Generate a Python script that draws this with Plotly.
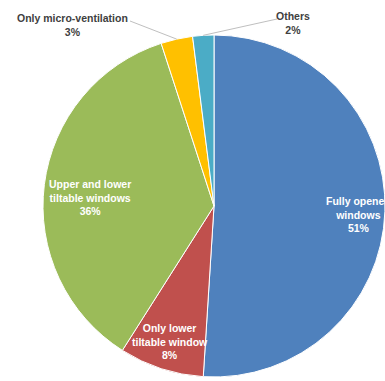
import math
import plotly.graph_objects as go

# Window opening modes and their shares (%)
labels = ["Fully opened windows", "Only lower tiltable window", "Upper and lower tiltable windows",
          "Only micro-ventilation", "Others"]
label_lines = ["Fully opened<br>windows", "Only lower<br>tiltable window", "Upper and lower<br>tiltable windows",
               "Only micro-ventilation", "Others"]
values = [51, 8, 36, 3, 2]
colors = ["#4F81BD", "#C0504D", "#9BBB59", "#FFC000", "#4BACC6"]

W, H = 385, 381
CX, CY, R = 214, 206, 171  # pie centre and radius in pixels


def px(x):
    return x / W


def py(y):
    return 1 - y / H


fig = go.Figure(go.Pie(
    labels=labels,
    values=values,
    sort=False,
    direction="clockwise",
    rotation=0,
    marker=dict(colors=colors, line=dict(color="white", width=1)),
    textinfo="none",
    hoverinfo="skip",
    domain=dict(x=[px(CX - R), px(CX + R)], y=[py(CY + R), py(CY - R)]),
    showlegend=False,
))

font_in = dict(family="Liberation Sans, Arial, sans-serif", size=10.5, color="white")
font_out = dict(family="Liberation Sans, Arial, sans-serif", size=10.5, color="#404040")

# label anchor positions (pixels) for each slice
label_pos = [(358, 214), (170, 341), (90, 197), (72, 25), (293, 23)]
inside = [True, True, True, False, False]

for name, v, (lx, ly), ins in zip(label_lines, values, label_pos, inside):
    fig.add_annotation(
        x=px(lx), y=py(ly), xref="paper", yref="paper",
        text=f"<b>{name}<br>{v}%</b>", showarrow=False,
        font=font_in if ins else font_out, align="center",
        xanchor="center", yanchor="middle",
    )

# leader lines for the two small outside slices, ending at each slice's mid-angle on the rim
total = sum(values)
cum = 0
mids = []
for v in values:
    mids.append((cum + v / 2) / total * 2 * math.pi)
    cum += v
starts = {3: (130, 21), 4: (277, 19)}
for i, (sx, sy) in starts.items():
    a = mids[i]
    ex = CX + R * math.sin(a)
    ey = CY - R * math.cos(a)
    fig.add_shape(type="line", xref="paper", yref="paper",
                  x0=px(sx), y0=py(sy), x1=px(ex), y1=py(ey),
                  line=dict(color="#BFBFBF", width=1))

fig.update_layout(
    width=W, height=H,
    margin=dict(l=0, r=0, t=0, b=0),
    paper_bgcolor="white",
    plot_bgcolor="white",
)

fig.write_html("out.html")
